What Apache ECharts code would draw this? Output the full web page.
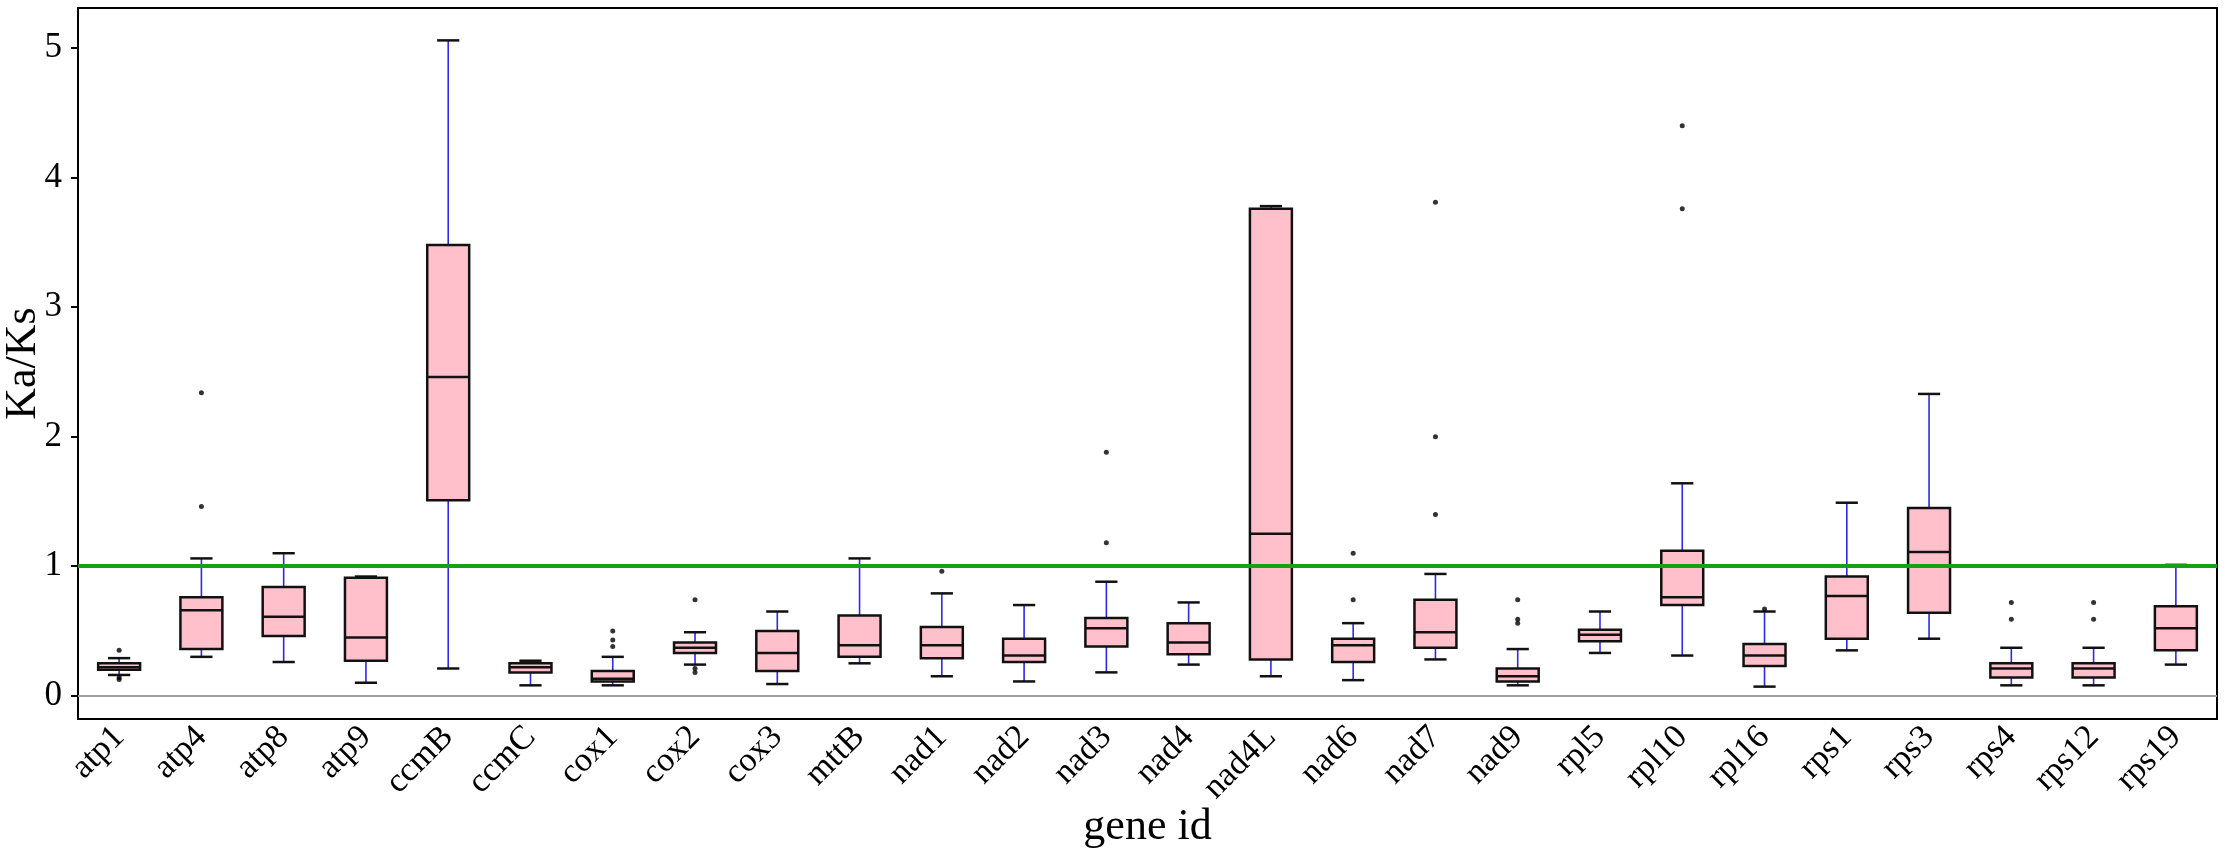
<!DOCTYPE html>
<html>
<head>
<meta charset="utf-8">
<title>Ka/Ks boxplot</title>
<script src="https://cdn.jsdelivr.net/npm/echarts@6/dist/echarts.min.js"></script>
<style>
  html, body { margin: 0; padding: 0; background: #fff; }
  #chart-box { width: 2228px; height: 858px; }
</style>
</head>
<body>
<div id="chart-box"></div>
<script>
// 基因名（x轴类别）
var genes = ['atp1', 'atp4', 'atp8', 'atp9', 'ccmB', 'ccmC', 'cox1', 'cox2', 'cox3', 'mttB',
    'nad1', 'nad2', 'nad3', 'nad4', 'nad4L', 'nad6', 'nad7', 'nad9', 'rpl5', 'rpl10',
    'rpl16', 'rps1', 'rps3', 'rps4', 'rps12', 'rps19'];

// 箱线图五个统计值
var lowWhisker = [0.16, 0.30, 0.26, 0.10, 0.21, 0.08, 0.08, 0.24, 0.09, 0.25, 0.15, 0.11, 0.18,
    0.24, 0.15, 0.12, 0.28, 0.08, 0.33, 0.31, 0.07, 0.35, 0.44, 0.08, 0.08, 0.24];
var q1 = [0.20, 0.36, 0.46, 0.27, 1.51, 0.18, 0.11, 0.33, 0.19, 0.30, 0.29, 0.26, 0.38,
    0.32, 0.28, 0.26, 0.37, 0.11, 0.42, 0.70, 0.23, 0.44, 0.64, 0.14, 0.14, 0.35];
var median = [0.22, 0.66, 0.61, 0.45, 2.46, 0.22, 0.13, 0.37, 0.33, 0.39, 0.39, 0.31, 0.52,
    0.41, 1.25, 0.39, 0.49, 0.15, 0.47, 0.76, 0.31, 0.77, 1.11, 0.21, 0.21, 0.52];
var q3 = [0.25, 0.76, 0.84, 0.91, 3.48, 0.25, 0.19, 0.41, 0.50, 0.62, 0.53, 0.44, 0.60,
    0.56, 3.76, 0.44, 0.74, 0.21, 0.51, 1.12, 0.40, 0.92, 1.45, 0.25, 0.25, 0.69];
var highWhisker = [0.29, 1.06, 1.10, 0.92, 5.06, 0.27, 0.30, 0.49, 0.65, 1.06, 0.79, 0.70, 0.88,
    0.72, 3.78, 0.56, 0.94, 0.36, 0.65, 1.64, 0.65, 1.49, 2.33, 0.37, 0.37, 1.01];

// 离群点 [基因, 值]
var outliers = [
    ['atp1', 0.35], ['atp1', 0.14], ['atp1', 0.125],
    ['atp4', 2.34], ['atp4', 1.46],
    ['cox1', 0.50], ['cox1', 0.43], ['cox1', 0.38],
    ['cox2', 0.74], ['cox2', 0.21], ['cox2', 0.18],
    ['nad1', 0.96],
    ['nad3', 1.88], ['nad3', 1.18],
    ['nad6', 1.10], ['nad6', 0.74],
    ['nad7', 3.81], ['nad7', 2.00], ['nad7', 1.40],
    ['nad9', 0.74], ['nad9', 0.59], ['nad9', 0.56],
    ['rpl10', 4.40], ['rpl10', 3.76],
    ['rpl16', 0.67],
    ['rps4', 0.72], ['rps4', 0.59],
    ['rps12', 0.72], ['rps12', 0.59]
];

// y轴刻度
var yTicks = [0, 1, 2, 3, 4, 5];

var boxChart = echarts.init(document.querySelector('#chart-box'));

// 组合成 custom series 需要的数据
var boxData = genes.map(function (g, i) {
    return [i, lowWhisker[i], q1[i], median[i], q3[i], highWhisker[i]];
});

// 自绘箱体：蓝色须线 + 黑色端线 + 粉色箱体
function renderBox(params, api) {
    var idx = api.value(0);
    var cx = api.coord([idx, 0])[0];
    var yLow = api.coord([idx, api.value(1)])[1];
    var yQ1 = api.coord([idx, api.value(2)])[1];
    var yMed = api.coord([idx, api.value(3)])[1];
    var yQ3 = api.coord([idx, api.value(4)])[1];
    var yHigh = api.coord([idx, api.value(5)])[1];
    var band = api.size([1, 0])[0];
    var bw = band * 0.255;  // 箱体半宽
    var cw = band * 0.135;  // 端线半宽
    var blue = { stroke: '#2a2ae8', lineWidth: 1.6 };
    var black = { stroke: '#111', lineWidth: 2.5 };
    return {
        type: 'group',
        children: [
            { type: 'line', shape: { x1: cx, y1: yLow, x2: cx, y2: yQ1 }, style: blue },
            { type: 'line', shape: { x1: cx, y1: yQ3, x2: cx, y2: yHigh }, style: blue },
            { type: 'line', shape: { x1: cx - cw, y1: yLow, x2: cx + cw, y2: yLow }, style: black },
            { type: 'line', shape: { x1: cx - cw, y1: yHigh, x2: cx + cw, y2: yHigh }, style: black },
            {
                type: 'rect',
                shape: { x: cx - bw, y: yQ3, width: bw * 2, height: yQ1 - yQ3 },
                style: { fill: '#ffc0cb', stroke: '#111', lineWidth: 2.5 }
            },
            { type: 'line', shape: { x1: cx - bw, y1: yMed, x2: cx + bw, y2: yMed }, style: black }
        ]
    };
}

var fontName = "'Liberation Serif', 'Times New Roman', serif";

var option = {
    animation: false,
    backgroundColor: '#fff',
    grid: {
        left: 78,
        right: 11,
        top: 8,
        bottom: 139,
        outerBoundsMode: 'none', // 不让标签挤压绘图区
        show: true,
        borderColor: '#000',
        borderWidth: 2
    },
    xAxis: {
        type: 'category',
        data: genes,
        name: 'gene id',
        nameLocation: 'middle',
        nameGap: 86,
        nameMoveOverlap: false,
        nameTextStyle: { fontFamily: fontName, fontSize: 44, color: '#000' },
        axisLine: { lineStyle: { color: '#000', width: 2 } },
        axisTick: { alignWithLabel: true, length: 8, lineStyle: { color: '#000', width: 2 } },
        axisLabel: {
            rotate: 45,
            interval: 0,
            margin: 13,
            fontFamily: fontName,
            fontSize: 34,
            color: '#000'
        },
        splitLine: { show: false }
    },
    yAxis: {
        type: 'value',
        min: -0.18,
        max: 5.31,
        name: 'Ka/Ks',
        nameLocation: 'middle',
        nameGap: 33,
        nameMoveOverlap: false,
        nameTextStyle: { fontFamily: fontName, fontSize: 44, color: '#000' },
        axisLine: { show: true, lineStyle: { color: '#000', width: 2 } },
        axisTick: { show: true, length: 7, customValues: yTicks, lineStyle: { color: '#000', width: 2 } },
        axisLabel: {
            customValues: yTicks,
            margin: 16,
            fontFamily: fontName,
            fontSize: 35,
            color: '#000'
        },
        splitLine: { show: false }
    },
    series: [
        {
            // 参考线：0 灰线，1 绿线
            type: 'line',
            data: [],
            z: 1,
            markLine: {
                silent: true,
                symbol: 'none',
                label: { show: false },
                data: [
                    { yAxis: 0, lineStyle: { color: '#d4d4d4', width: 1.5, type: 'solid' } },
                    { yAxis: 1, lineStyle: { color: '#16a016', width: 4, type: 'solid' } }
                ]
            }
        },
        {
            type: 'custom',
            renderItem: renderBox,
            data: boxData,
            encode: { x: 0, y: [1, 2, 3, 4, 5] },
            z: 3
        },
        {
            type: 'scatter',
            data: outliers,
            symbol: 'circle',
            symbolSize: 5,
            itemStyle: { color: '#000' },
            z: 4
        }
    ]
};

boxChart.setOption(option);
</script>
</body>
</html>
